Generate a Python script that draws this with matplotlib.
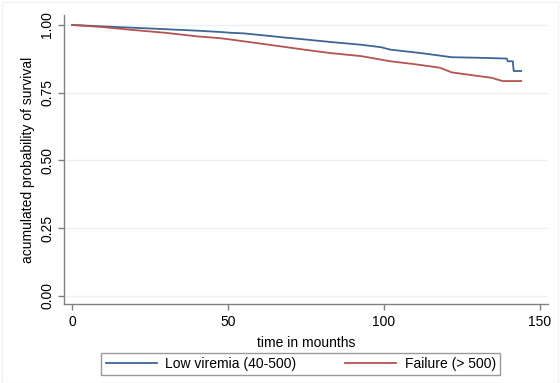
import matplotlib
matplotlib.use('Agg')
import matplotlib.pyplot as plt
from matplotlib.patches import Rectangle

plt.rcParams['font.family'] = ['Liberation Sans', 'DejaVu Sans']

# Kaplan-Meier style estimates
t_low = [0, 15, 25, 40, 47.6, 51, 55, 62, 66.9, 73.4, 83, 92.7, 99, 102, 112, 121.7, 130, 139.4, 139.7, 141.3, 141.6, 144]
s_low = [1.0, 0.992, 0.987, 0.979, 0.974, 0.971, 0.969, 0.961, 0.955, 0.948, 0.937, 0.927, 0.918, 0.909, 0.896, 0.881, 0.879, 0.876, 0.866, 0.866, 0.830, 0.830]

t_fail = [0, 10, 20, 30, 40, 47.6, 51, 58, 66.9, 75, 83, 92.7, 102, 110, 118, 121.7, 128, 134.5, 138, 144]
s_fail = [1.0, 0.992, 0.981, 0.971, 0.958, 0.951, 0.946, 0.935, 0.921, 0.908, 0.896, 0.885, 0.866, 0.855, 0.842, 0.825, 0.815, 0.805, 0.793, 0.793]

labels = ['Low viremia (40-500)', 'Failure (> 500)']
xticks = [0, 50, 100, 150]
yticks = [0, 0.25, 0.5, 0.75, 1.0]

fig = plt.figure(figsize=(5.6, 3.83), dpi=100)
fig.patches.append(Rectangle((0.004, 0.0), 0.992, 0.995, transform=fig.transFigure,
                             fill=False, edgecolor='#eef3f4', linewidth=1))
ax = fig.add_axes([0.1143, 0.2055, 0.8643, 0.7555])

ax.plot(t_low, s_low, color='#3c6695', linewidth=1.3, label=labels[0])
ax.plot(t_fail, s_fail, color='#b5534f', linewidth=1.3, label=labels[1])

ax.set_xlim(-2.6, 152.6)
ax.set_ylim(-0.031, 1.037)
ax.set_xticks(xticks)
ax.set_yticks(yticks)
ax.set_yticklabels(['0.00', '0.25', '0.50', '0.75', '1.00'], rotation=90, va='center')
for y in yticks:
    ax.axhline(y, color='#eaf2f3', linewidth=1, zorder=0)

for s in ['top', 'right']:
    ax.spines[s].set_visible(False)
for s in ['left', 'bottom']:
    ax.spines[s].set_color('#808080')
    ax.spines[s].set_linewidth(1)
ax.tick_params(colors='#808080', labelcolor='black', labelsize=10, length=4, width=1)
ax.tick_params(axis='y', pad=3)

ax.set_xlabel('time in mounths', fontsize=10, labelpad=5)
ax.set_ylabel('acumulated probability of survival', fontsize=10, labelpad=4)

leg = fig.legend(loc='lower center', bbox_to_anchor=(0.537, 0.002), ncol=2, fontsize=10,
                 frameon=True, fancybox=False, edgecolor='#808080', handlelength=3.7,
                 columnspacing=3.5, handletextpad=0.6, borderpad=0.3)
leg.get_frame().set_linewidth(1)

fig.savefig('out.png', dpi=100)
